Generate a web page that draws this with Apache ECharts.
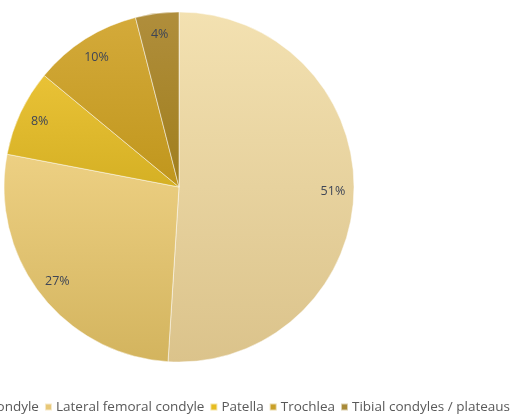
<!DOCTYPE html>
<html>
<head>
<meta charset="utf-8">
<script src="https://cdn.jsdelivr.net/npm/echarts@6/dist/echarts.min.js"></script>
<style>
html,body{margin:0;padding:0;background:#fff;}
#chart{width:512px;height:416px;}
</style>
</head>
<body>
<div id="chart"></div>
<script>
var categories = ['Medial femoral condyle', 'Lateral femoral condyle', 'Patella', 'Trochlea', 'Tibial condyles / plateaus'];
var values = [51, 27, 8, 10, 4];
var topColors = ['#f3e1b1', '#edd083', '#e9c236', '#d4aa3a', '#b08e3c'];
var bottomColors = ['#dbc38b', '#d3b45e', '#d5b024', '#c0961c', '#a07e1c'];
var legendColors = ['#efdcaa', '#e8c878', '#e6bc20', '#c9a028', '#a88a38'];

var chart = echarts.init(document.getElementById('chart'), null, {renderer: 'canvas'});

var mainData = categories.map(function (name, i) {
  return {
    name: name,
    value: values[i],
    itemStyle: {
      color: new echarts.graphic.LinearGradient(0, 0, 0, 1, [
        {offset: 0, color: topColors[i]},
        {offset: 1, color: bottomColors[i]}
      ])
    }
  };
});
var labelData = categories.map(function (name, i) {
  return {name: name, value: values[i], itemStyle: {color: 'rgba(0,0,0,0)'}};
});

var fontFam = '"Open Sans", "Liberation Sans", sans-serif';

chart.setOption({
  animation: false,
  backgroundColor: '#ffffff',
  legend: {
    data: categories.map(function (name, i) {
      return {name: name, itemStyle: {color: legendColors[i]}};
    }),
    width: 900,
    right: 2,
    top: 400,
    itemWidth: 7,
    itemHeight: 7,
    itemGap: 5,
    icon: 'rect',
    padding: 0,
    textStyle: {color: '#595959', fontSize: 13.5, fontFamily: fontFam, padding: [0, 0, 0, -1]}
  },
  series: [
    {
      type: 'pie',
      center: [179, 187],
      radius: 175,
      startAngle: 90,
      clockwise: true,
      silent: true,
      label: {show: false},
      labelLine: {show: false},
      itemStyle: {borderColor: 'rgba(255,255,255,0.6)', borderWidth: 0.8},
      data: mainData
    },
    {
      type: 'pie',
      center: [179, 187],
      radius: [126, 176],
      startAngle: 90,
      clockwise: true,
      silent: true,
      legendHoverLink: false,
      label: {
        show: true,
        position: 'inside',
        formatter: '{c}%',
        color: '#3e4556',
        fontSize: 12.5,
        fontFamily: fontFam
      },
      labelLine: {show: false},
      itemStyle: {borderWidth: 0},
      data: labelData
    }
  ]
});
</script>
</body>
</html>
